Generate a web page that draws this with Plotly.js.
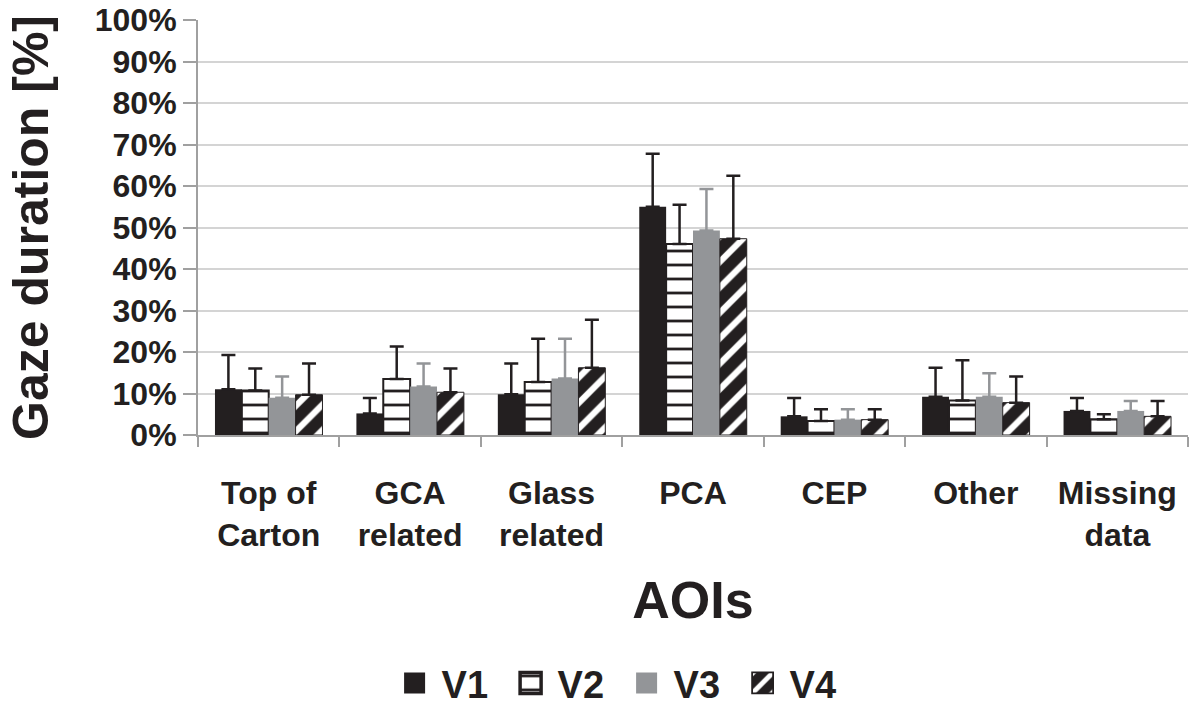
<!DOCTYPE html>
<html><head><meta charset="utf-8">
<script src="https://cdn.plot.ly/plotly-3.0.1.min.js"></script>
<style>body{margin:0;background:#fff}#c{width:1200px;height:708px}</style>
</head><body><div id="c"></div>
<script>
const categories = ["Top of<br>Carton","GCA<br>related","Glass<br>related","PCA","CEP","Other","Missing<br>data"];
const v1 = [11.0, 5.2, 9.8, 55.0, 4.5, 9.2, 5.8];
const v1Err = [8.3, 3.7, 7.4, 12.8, 4.4, 7.0, 3.1];
const v2 = [10.7, 13.5, 12.8, 46.0, 3.4, 8.3, 3.8];
const v2Err = [5.3, 7.8, 10.4, 9.5, 2.8, 9.7, 1.2];
const v3 = [9.0, 11.7, 13.6, 49.3, 3.7, 9.2, 5.8];
const v3Err = [5.1, 5.5, 9.6, 10.0, 2.5, 5.7, 2.4];
const v4 = [9.7, 10.3, 16.2, 47.3, 3.7, 7.8, 4.5];
const v4Err = [7.5, 5.7, 11.6, 15.2, 2.5, 6.3, 3.7];

const font = "Liberation Sans, Arial, Helvetica, sans-serif";
function err(arr, color){
  return {type:"data", array:arr, symmetric:false, arrayminus:arr.map(()=>0), color:color, thickness:2.5, width:7};
}
const traces = [
  {type:"bar", name:"V1", x:categories, y:v1, marker:{color:"#231f20", line:{width:0}}, error_y:err(v1Err,"#231f20")},
  {type:"bar", name:"V2", x:categories, y:v2, marker:{color:"#ffffff", line:{color:"#231f20", width:2},
     pattern:{shape:"-", fgcolor:"#231f20", bgcolor:"#ffffff", size:14, solidity:0.2}}, error_y:err(v2Err,"#231f20")},
  {type:"bar", name:"V3", x:categories, y:v3, marker:{color:"#939598", line:{width:0}}, error_y:err(v3Err,"#939598")},
  {type:"bar", name:"V4", x:categories, y:v4, marker:{color:"#231f20", line:{color:"#231f20", width:1},
     pattern:{shape:"/", fgcolor:"#ffffff", bgcolor:"#231f20", size:18, solidity:0.35}}, error_y:err(v4Err,"#231f20")}
];
const layout = {
  width:1200, height:708,
  margin:{l:198, r:12, t:20, b:273},
  paper_bgcolor:"#fff", plot_bgcolor:"#fff",
  barmode:"group", bargap:0.24, bargroupgap:0,
  font:{family:font, color:"#231f20"},
  showlegend:true,
  legend:{orientation:"h", xref:"container", yref:"container", x:0.528, xanchor:"center", y:0.035, yanchor:"middle",
    font:{family:font, size:38, weight:"bold", color:"#231f20"}, itemwidth:30,
    entrywidth:71, entrywidthmode:"pixels", traceorder:"normal"},
  xaxis:{
    type:"category", showline:true, linecolor:"#a0a0a0", linewidth:2,
    ticks:"outside", tickson:"boundaries", ticklen:10, tickwidth:2, tickcolor:"#a0a0a0",
    ticklabelstandoff:29,
    tickfont:{family:font, size:32, weight:"bold", color:"#231f20"},
    title:{text:"AOIs", font:{family:font, size:52, weight:"bold", color:"#231f20"}, standoff:30},
    automargin:false
  },
  yaxis:{
    range:[0,100], dtick:10, ticksuffix:"%",
    showline:true, linecolor:"#a0a0a0", linewidth:2,
    ticks:"outside", ticklen:13, tickwidth:2, tickcolor:"#a0a0a0",
    showgrid:true, gridcolor:"#d4d4d4", gridwidth:2, zeroline:false,
    tickfont:{family:font, size:32, weight:"bold", color:"#231f20"},
    title:{text:"Gaze duration [%]", font:{family:font, size:50, weight:"bold", color:"#231f20"}, standoff:30},
    automargin:false
  }
};
Plotly.newPlot("c", traces, layout, {displayModeBar:false, staticPlot:true}).then(function(){
  document.querySelectorAll(".legend .legendpoints path").forEach(function(p){
    p.setAttribute("transform", "translate(13,0) scale(1.75)");
  });
});
</script></body></html>
